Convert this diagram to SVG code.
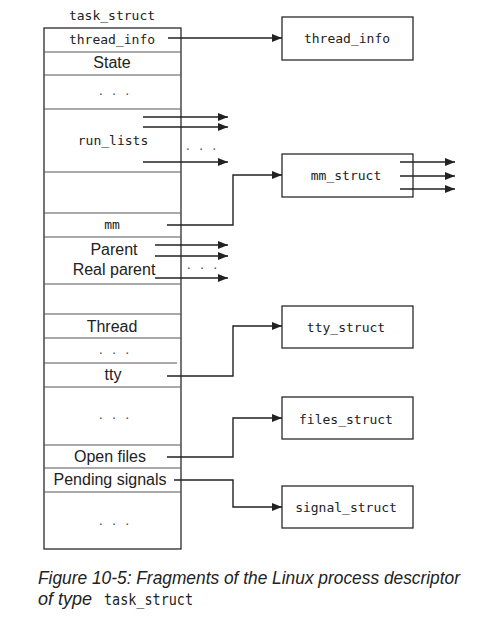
<svg xmlns="http://www.w3.org/2000/svg" width="494" height="621" viewBox="0 0 494 621">
<style>
.bg{fill:#fff}
.box{fill:#fff;stroke:#2a2a2a;stroke-width:1.3}
.div{stroke:#555;stroke-width:1.2}
.mono{font-family:"DejaVu Sans Mono","Liberation Mono",monospace;font-size:13px;fill:#222;text-anchor:middle}
.sans{font-family:"Liberation Sans","Noto Sans",sans-serif;font-size:16px;fill:#222;text-anchor:middle}
.dots{font-family:"DejaVu Sans Mono","Liberation Mono",monospace;font-size:11px;fill:#555;text-anchor:middle}
.cap{font-family:"Liberation Sans","Noto Sans",sans-serif;font-size:18px;font-style:italic;fill:#222}
.capm{font-family:"DejaVu Sans Mono","Liberation Mono",monospace;font-size:15px;font-style:normal}
.conn{fill:none;stroke:#222;stroke-width:1.4}
</style>
<defs>
<marker id="ah" viewBox="0 0 10 8" refX="10" refY="4" markerWidth="10" markerHeight="8" markerUnits="userSpaceOnUse" orient="auto">
<path d="M0,0 L10,4 L0,8 z" fill="#222"/>
</marker>
</defs>
<rect class="bg" x="0" y="0" width="494" height="621"/>

<g id="task_struct">
<text class="mono" x="112" y="20">task_struct</text>
<rect class="box" x="44" y="28" width="137" height="521"/>
<line class="div" x1="44" y1="52" x2="181" y2="52"/>
<line class="div" x1="44" y1="75" x2="181" y2="75"/>
<line class="div" x1="44" y1="109" x2="181" y2="109"/>
<line class="div" x1="44" y1="172" x2="181" y2="172"/>
<line class="div" x1="44" y1="213" x2="181" y2="213"/>
<line class="div" x1="44" y1="237" x2="181" y2="237"/>
<line class="div" x1="44" y1="284" x2="181" y2="284"/>
<line class="div" x1="44" y1="314" x2="181" y2="314"/>
<line class="div" x1="44" y1="338" x2="181" y2="338"/>
<line class="div" x1="44" y1="363" x2="177" y2="363"/>
<line class="div" x1="44" y1="387" x2="181" y2="387"/>
<line class="div" x1="44" y1="445" x2="181" y2="445"/>
<line class="div" x1="44" y1="468" x2="181" y2="468"/>
<line class="div" x1="44" y1="492" x2="181" y2="492"/>
<text class="mono" x="112" y="44">thread_info</text>
<text class="sans" x="112" y="68">State</text>
<text class="dots" x="114" y="95">. . .</text>
<text class="mono" x="113" y="145">run_lists</text>
<text class="mono" x="112" y="229">mm</text>
<text class="sans" x="114" y="255">Parent</text>
<text class="sans" x="114" y="275">Real parent</text>
<text class="sans" x="112" y="332">Thread</text>
<text class="dots" x="114" y="354">. . .</text>
<text class="sans" x="113" y="380">tty</text>
<text class="dots" x="114" y="419">. . .</text>
<text class="sans" x="110" y="462">Open files</text>
<text class="sans" x="110" y="485">Pending signals</text>
<text class="dots" x="114" y="525">. . .</text>
</g>

<g id="thread_info">
<rect class="box" x="282" y="17" width="131" height="43"/>
<text class="mono" x="347" y="43">thread_info</text>
</g>
<g id="mm_struct">
<rect class="box" x="282" y="154" width="131" height="43"/>
<text class="mono" x="346" y="180">mm_struct</text>
</g>
<g id="tty_struct">
<rect class="box" x="282" y="306" width="131" height="42"/>
<text class="mono" x="346" y="332">tty_struct</text>
</g>
<g id="files_struct">
<rect class="box" x="282" y="397" width="131" height="42"/>
<text class="mono" x="346" y="424">files_struct</text>
</g>
<g id="signal_struct">
<rect class="box" x="282" y="486" width="131" height="42"/>
<text class="mono" x="346" y="512">signal_struct</text>
</g>

<g id="connectors">
<path class="conn" d="M168,38 H282" marker-end="url(#ah)"/>
<path class="conn" d="M143,117 H228" marker-end="url(#ah)"/>
<path class="conn" d="M143,127 H228" marker-end="url(#ah)"/>
<path class="conn" d="M143,162 H228" marker-end="url(#ah)"/>
<text class="dots" x="201" y="150">. . .</text>
<path class="conn" d="M167,225 H233 V175 H282" marker-end="url(#ah)"/>
<path class="conn" d="M400,162 H455" marker-end="url(#ah)"/>
<path class="conn" d="M400,176 H455" marker-end="url(#ah)"/>
<path class="conn" d="M400,189 H455" marker-end="url(#ah)"/>
<path class="conn" d="M155,245 H228" marker-end="url(#ah)"/>
<path class="conn" d="M155,256 H228" marker-end="url(#ah)"/>
<path class="conn" d="M155,278 H228" marker-end="url(#ah)"/>
<text class="dots" x="202" y="269">. . .</text>
<path class="conn" d="M167,376 H233 V326 H282" marker-end="url(#ah)"/>
<path class="conn" d="M167,457 H233 V418 H282" marker-end="url(#ah)"/>
<path class="conn" d="M174,480 H233 V507 H282" marker-end="url(#ah)"/>
</g>

<g id="caption">
<text class="cap" x="38" y="584" textLength="422" lengthAdjust="spacingAndGlyphs">Figure 10-5: Fragments of the Linux process descriptor</text>
<text class="cap" x="38" y="605">of type<tspan class="capm" x="104" textLength="89" lengthAdjust="spacingAndGlyphs">task_struct</tspan></text>
</g>
</svg>
